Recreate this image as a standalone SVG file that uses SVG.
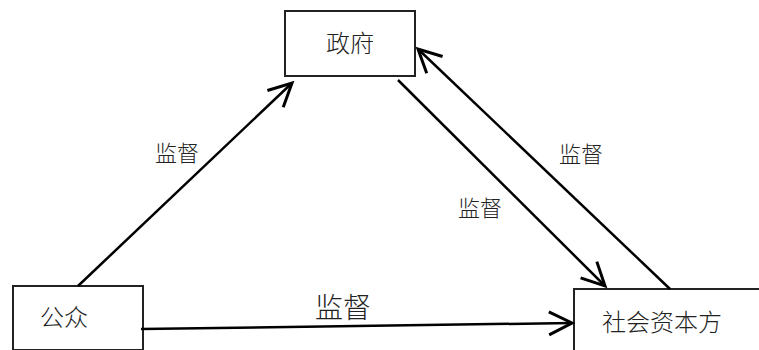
<svg xmlns="http://www.w3.org/2000/svg" width="759" height="350" viewBox="0 0 759 350">
<style>
.box{fill:#fff;stroke:#222;stroke-width:2}
.t{font-family:"Noto Sans CJK SC","Noto Sans CJK JP",sans-serif;font-weight:300;fill:#222;text-anchor:middle}
.n{font-size:24px}
.l{font-size:22px}
.c{stroke:#000;stroke-width:2.5;fill:none}
</style>
<defs>
<marker id="ah" markerUnits="userSpaceOnUse" viewBox="-26 -14 30 28" refX="0" refY="0" markerWidth="30" markerHeight="28" orient="auto">
<path d="M-23,-11.5 L0,0 L-23,11.5" fill="none" stroke="#000" stroke-width="3"/>
</marker>
</defs>
<rect width="759" height="350" fill="#fff"/>
<g id="gov"><rect class="box" x="285" y="11" width="130" height="65"/><text class="t n" x="350" y="52">政府</text></g>
<g id="public"><rect class="box" x="13" y="286" width="130" height="64"/><text class="t n" x="64" y="326">公众</text></g>
<g id="social"><rect class="box" x="574" y="289" width="190" height="70"/><text class="t n" x="662" y="331">社会资本方</text></g>
<g id="connectors">
<line class="c" x1="78" y1="286" x2="292" y2="83" marker-end="url(#ah)"/>
<line class="c" x1="398" y1="80" x2="605" y2="286" marker-end="url(#ah)"/>
<line class="c" x1="670" y1="289" x2="418" y2="49" marker-end="url(#ah)"/>
<line class="c" x1="141" y1="329" x2="572" y2="323" marker-end="url(#ah)"/>
<text class="t l" x="177" y="161">监督</text>
<text class="t l" x="480" y="216">监督</text>
<text class="t l" x="581" y="162">监督</text>
<text class="t" style="font-size:28px" x="343" y="318">监督</text>
</g>
</svg>
